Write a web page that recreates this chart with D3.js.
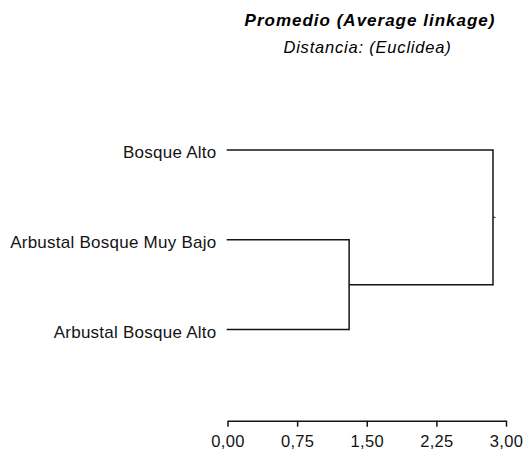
<!DOCTYPE html>
<html>
<head>
<meta charset="utf-8">
<script src="https://cdn.jsdelivr.net/npm/d3@7"></script>
<style>
  html, body { margin: 0; padding: 0; background: #fff; }
  svg { display: block; font-family: "Liberation Sans", Arial, sans-serif; }
</style>
</head>
<body>
<svg id="chart" width="526" height="450"></svg>
<script>
// Leaves of the dendrogram, top to bottom
const leaves = ["Bosque Alto", "Arbustal Bosque Muy Bajo", "Arbustal Bosque Alto"];
// Agglomeration steps: children (leaf index or "c<step>") and joining distance
const mergeLeft = [1, 0];
const mergeRight = [2, "c0"];
const mergeHeight = [1.31, 2.86];
// Distance axis ticks
const tickValues = [0, 0.75, 1.5, 2.25, 3];

const svg = d3.select("#chart");
const ink = "#141414";

const x = d3.scaleLinear().domain([0, 3]).range([227.5, 506]);
const y = d3.scalePoint().domain(leaves).range([150, 329.5]);

// Node positions: leaves at distance 0, clusters at their merge height
const pos = {};
leaves.forEach((name, i) => { pos[i] = { h: 0, y: y(name) }; });
mergeHeight.forEach((h, k) => {
  const a = pos[mergeLeft[k]], b = pos[mergeRight[k]];
  pos["c" + k] = { h: h, y: (a.y + b.y) / 2, y0: a.y, y1: b.y };
});

const g = svg.append("g")
  .attr("fill", "none")
  .attr("stroke", ink)
  .attr("stroke-width", 1.5);

// Horizontal segment from each child to its parent, then the vertical joint
mergeHeight.forEach((h, k) => {
  [mergeLeft[k], mergeRight[k]].forEach(c => {
    const n = pos[c];
    g.append("line")
      .attr("x1", x(n.h) - (n.h === 0 ? 0.8 : 0)).attr("x2", x(h))
      .attr("y1", n.y).attr("y2", n.y);
  });
  const p = pos["c" + k];
  g.append("line")
    .attr("x1", x(h)).attr("x2", x(h))
    .attr("y1", p.y0 - 0.75).attr("y2", p.y1 + 0.75);
});

// Short stub marking the root
const root = pos["c" + (mergeHeight.length - 1)];
g.append("line")
  .attr("x1", x(root.h)).attr("x2", x(root.h) + 2.5)
  .attr("y1", root.y).attr("y2", root.y)
  .attr("stroke-width", 1);

// Leaf labels
svg.append("g")
  .selectAll("text")
  .data(leaves)
  .join("text")
  .attr("x", 216.5)
  .attr("y", d => y(d) + 8.2)
  .attr("text-anchor", "end")
  .attr("font-size", 17)
  .attr("letter-spacing", 0.25)
  .attr("fill", ink)
  .text(d => d);

// Distance axis with comma decimals
const locale = d3.formatLocale({ decimal: ",", thousands: ".", grouping: [3], currency: ["", ""] });
const axis = d3.axisBottom(x)
  .tickValues(tickValues)
  .tickFormat(locale.format(".2f"))
  .tickSizeOuter(0)
  .tickSizeInner(6)
  .tickPadding(8.3);

const ax = svg.append("g")
  .attr("transform", "translate(0,420.7)")
  .call(axis);
ax.select(".domain").attr("stroke", ink).attr("stroke-width", 1.5);
ax.selectAll(".tick line").attr("stroke", ink).attr("stroke-width", 1.5);
ax.selectAll(".tick text")
  .attr("font-size", 16.5)
  .attr("letter-spacing", 0.3)
  .attr("font-family", "Liberation Sans, Arial, sans-serif")
  .attr("fill", ink);

// Titles
svg.append("text")
  .attr("x", 370).attr("y", 25.5)
  .attr("text-anchor", "middle")
  .attr("font-size", 17)
  .attr("letter-spacing", 1)
  .attr("font-weight", "bold")
  .attr("font-style", "italic")
  .attr("fill", "#000")
  .text("Promedio (Average linkage)");

svg.append("text")
  .attr("x", 367.5).attr("y", 52.5)
  .attr("text-anchor", "middle")
  .attr("font-size", 16.5)
  .attr("letter-spacing", 0.8)
  .attr("font-style", "italic")
  .attr("fill", "#000")
  .text("Distancia: (Euclidea)");
</script>
</body>
</html>
